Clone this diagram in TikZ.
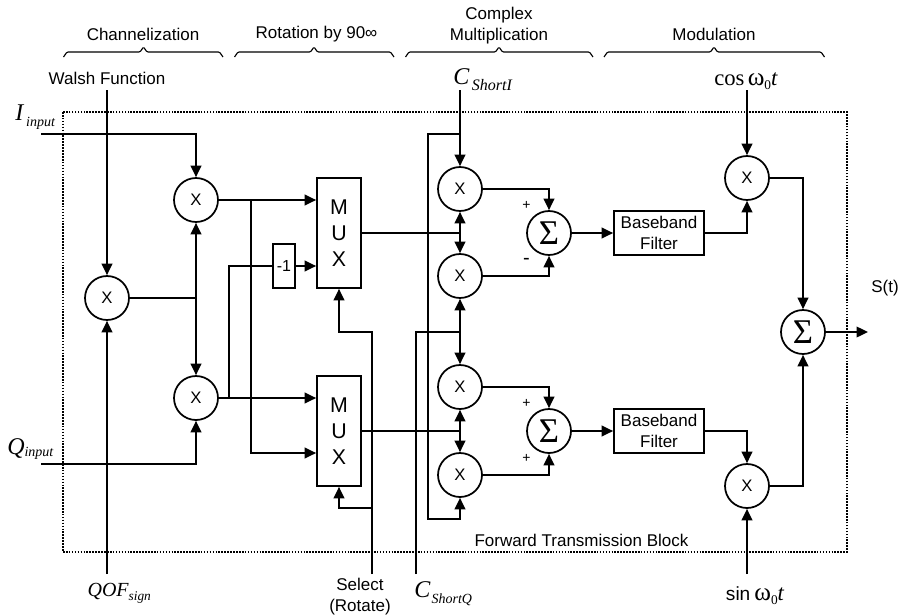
\documentclass[tikz,border=0pt]{standalone}
\usepackage{fontspec}
\setmainfont{Liberation Sans}
\newfontfamily\tms{Liberation Serif}
\usetikzlibrary{arrows.meta}
\newcommand{\fs}[1]{\fontsize{#1}{#1}\selectfont}
\tikzset{
  wire/.style={line width=1.3pt,line join=miter},
  arr/.style={wire,-{Triangle[length=8.6pt,width=8pt]}},
  mult/.style={circle,draw,line width=1.3pt,minimum size=33pt,inner sep=0pt,font=\fontsize{12.5pt}{12.5pt}\selectfont},
  summ/.style={circle,draw,line width=1.3pt,minimum size=33pt,inner sep=0pt,font=\tms\fontsize{26pt}{26pt}\selectfont},
  muxbox/.style={draw,line width=1.3pt,minimum width=33pt,minimum height=82.5pt,inner sep=0pt,align=center,font=\fontsize{16pt}{19.7pt}\selectfont},
  bbbox/.style={draw,line width=1.3pt,minimum width=67.5pt,minimum height=33pt,inner sep=0pt,align=center,font=\fontsize{12.75pt}{15.6pt}\selectfont},
  negbox/.style={draw,line width=1.3pt,minimum width=16.5pt,minimum height=33pt,inner sep=0pt,font=\fontsize{12pt}{12pt}\selectfont},
  lab/.style={inner sep=0pt,align=center,font=\fontsize{12.75pt}{15.6pt}\selectfont},
  sgn/.style={inner sep=0pt,font=\fontsize{10.5pt}{12pt}\selectfont},
  mth/.style={inner sep=0pt,anchor=base west},
  bracket/.style={line width=.85pt,rounded corners=.8pt},
}
\newcommand{\MathLab}[5]{{\tms\itshape\fs{18pt}#1\hspace{#2}\raisebox{#3}{\fs{#5}#4}}}
\begin{document}
\begin{tikzpicture}[x=.75pt,y=-.75pt]
\useasboundingbox (0,0) rectangle (903,614);
% outer block
\draw[line width=1.3pt,dash pattern=on 1.2pt off 1pt] (63,112) rectangle (847,552);
% braces
\foreach \a/\m/\b in {63.5/143.5/223,234.5/314/394,405.5/499/593,604/714/824.5}{
  \draw[bracket] (\a,57) -- ({\a+3.5},52) -- ({\m-3.5},52) -- (\m,47) -- ({\m+3.5},52) -- ({\b-3.5},52) -- (\b,57);
}
% headings
\node[lab] (hA) at (143,34) {Channelization};
\node[lab] (hB) at (316.5,34) {Rotation by 90∞};
\node[lab] (hC) at (499,25.5) {Complex\\Multiplication};
\node[lab] (hD) at (714,34) {Modulation};
\node[lab] (walsh) at (107,78) {Walsh Function};
\node[lab] (sel) at (360,596.5) {Select\\(Rotate)};
\node[lab] (ftb) at (581.5,540.5) {Forward Transmission Block};
\node[lab] (st) at (885,288) {S(t)};
% math labels
\node[mth] (iin) at (15,120.7) {\MathLab{I}{2.2pt}{-4pt}{input}{10.5pt}};
\node[mth] (qin) at (7,454) {\MathLab{Q}{0pt}{-2pt}{input}{10.5pt}};
\node[mth] (csi) at (453,84.5) {\MathLab{C}{2pt}{-4.5pt}{ShortI}{12pt}};
\node[mth] (csq) at (414,597.7) {\MathLab{C}{1pt}{-4.5pt}{ShortQ}{10.5pt}};
\node[mth] (qof) at (87.3,596.7) {{\tms\itshape\fs{15pt}QOF\raisebox{-2.5pt}{\fs{10pt}sign}}};
\node[mth] (cosl) at (714,85) {{\tms\fs{17pt}cos\hspace{2.5pt}{\fs{19pt}ω}\raisebox{-3pt}{\fs{10pt}0}\hspace{0pt}{\itshape t}}};
\node[mth] (sinl) at (725.7,600) {{\fs{14.3pt}sin\hspace{3pt}{\tms{\fs{19pt}ω}\raisebox{-3pt}{\fs{10pt}0}\fs{17pt}{\itshape t}}}};
% blocks
\node[mult] (w) at (107,298) {X};
\node[mult] (x1) at (196,200) {X};
\node[mult] (x2) at (196,398) {X};
\node[muxbox] (mux1) at (339,233) {M\\U\\X};
\node[muxbox] (mux2) at (339,431) {M\\U\\X};
\node[negbox] (neg) at (284,266) {-1};
\node[mult] (m1) at (460,189) {X};
\node[mult] (m2) at (460,276) {X};
\node[mult] (m3) at (460,387) {X};
\node[mult] (m4) at (460,475) {X};
\node[summ] (s1) at (549,233) {Σ};
\node[summ] (s2) at (549,431) {Σ};
\node[bbbox] (b1) at (659,233) {Baseband\\Filter};
\node[bbbox] (b2) at (659,431) {Baseband\\Filter};
\node[mult] (c1) at (747,178) {X};
\node[mult] (c2) at (747,486) {X};
\node[summ] (s3) at (803,332) {Σ};
% signs
\node[sgn] (p1) at (526.5,205) {+};
\node[sgn,font=\fontsize{15pt}{15pt}\selectfont] (n1) at (526.5,261.5) {-};
\node[sgn] (p2) at (526.5,403) {+};
\node[sgn] (p3) at (526.5,458) {+};
% free ends and junctions
\coordinate (walshS) at (107,90);
\coordinate (iS) at (41,134);
\coordinate (qS) at (41,464);
\coordinate (qofS) at (107,574);
\coordinate (selS) at (372,574);
\coordinate (seljA) at (372,332);
\coordinate (seljB) at (372,508);
\coordinate (csiS) at (460,90);
\coordinate (csij) at (460,134);
\coordinate (csqS) at (416,574);
\coordinate (csqj) at (460,332);
\coordinate (cosS) at (747,90);
\coordinate (sinS) at (747,574);
\coordinate (outE) at (868,332);
\coordinate (wj) at (196,298);
\coordinate (ja) at (251,200);
\coordinate (jb) at (229,398);
\coordinate (m1j) at (460,233);
\coordinate (m2j) at (460,431);
% left part
\draw[arr] (walshS) -- (w.north);
\draw[arr] (qofS) -- (w.south);
\draw[arr] (iS) -| (x1.north);
\draw[arr] (qS) -| (x2.south);
\draw[wire] (w.east) -- (wj);
\draw[arr] (wj) -- (x1.south);
\draw[arr] (wj) -- (x2.north);
% into multiplexers
\draw[arr] (x1.east) -- (x1.east -| mux1.west);
\draw[arr] (x2.east) -- (x2.east -| mux2.west);
\draw[arr] (ja) -- (251,453) -- (mux2.west |- 251,453);
\draw[wire] (jb) |- (neg.west);
\draw[arr] (neg.east) -- (neg.east -| mux1.west);
\draw[arr] (selS) -- (seljA) -| (mux1.south);
\draw[arr] (seljB) -| (mux2.south);
% complex multipliers
\draw[wire] (mux1.east) -- (m1j);
\draw[wire] (mux2.east) -- (m2j);
\draw[arr] (m1j) -- (m1.south);
\draw[arr] (m1j) -- (m2.north);
\draw[arr] (m2j) -- (m3.south);
\draw[arr] (m2j) -- (m4.north);
\draw[arr] (csiS) -- (m1.north);
\draw[arr] (csij) -- (428,134) -- (428,519) -| (m4.south);
\draw[wire] (csqS) |- (csqj);
\draw[arr] (csqj) -- (m2.south);
\draw[arr] (csqj) -- (m3.north);
% summers
\draw[arr] (m1.east) -| (s1.north);
\draw[arr] (m2.east) -| (s1.south);
\draw[arr] (m3.east) -| (s2.north);
\draw[arr] (m4.east) -| (s2.south);
\draw[arr] (s1.east) -- (b1.west);
\draw[arr] (s2.east) -- (b2.west);
% modulation
\draw[arr] (b1.east) -| (c1.south);
\draw[arr] (b2.east) -| (c2.north);
\draw[arr] (cosS) -- (c1.north);
\draw[arr] (sinS) -- (c2.south);
\draw[arr] (c1.east) -| (s3.north);
\draw[arr] (c2.east) -| (s3.south);
\draw[arr] (s3.east) -- (outE);
\end{tikzpicture}
\end{document}
